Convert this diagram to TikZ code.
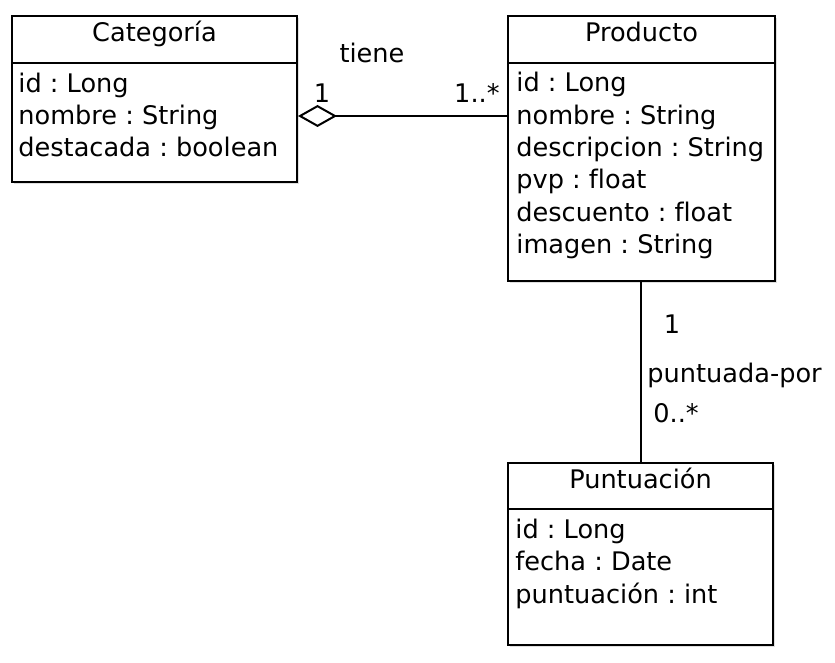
\documentclass[tikz,border=0pt]{standalone}
\usepackage{fontspec}
\setmainfont{DejaVu Sans}[Ligatures=NoCommon]
\usepackage{tikz}
\usetikzlibrary{arrows.meta,positioning,calc,shadows}
\frenchspacing
\tikzset{
  cls/.style={draw,line width=1pt,fill=white,anchor=north west,inner sep=0pt,
    drop shadow={shadow xshift=1pt,shadow yshift=-1pt,fill=black!25}},
  ttl/.style={anchor=base,inner sep=0pt,font=\fontsize{12.8}{15}\selectfont},
  attr/.style={anchor=base west,inner sep=0pt,font=\fontsize{12.8}{15}\selectfont},
  lbl/.style={anchor=base,inner sep=0pt,font=\fontsize{12.8}{15}\selectfont},
  agg/.style={{Diamond[open,length=19.5pt,width=11pt]}-,line width=1pt},
  assoc/.style={line width=1pt},
}
\begin{document}
\begin{tikzpicture}[x=0.5pt,y=-0.5pt]
\useasboundingbox (0,0) rectangle (835,663);
% classes
\node[cls,minimum width=142.5pt,minimum height=83pt] (cat) at (11,15) {};
\node[cls,minimum width=133.5pt,minimum height=132.5pt] (prod) at (507,15) {};
\node[cls,minimum width=132.5pt,minimum height=91pt] (punt) at (507,462) {};
\draw[line width=1pt] ($(cat.north west)+(0,48)$) -- ($(cat.north east)+(0,48)$);
\draw[line width=1pt] ($(prod.north west)+(0,48)$) -- ($(prod.north east)+(0,48)$);
\draw[line width=1pt] ($(punt.north west)+(0,47)$) -- ($(punt.north east)+(0,47)$);
\node[ttl] (cat-t) at ($(cat.north)+(0,27)$) {Categoría};
\node[ttl] (prod-t) at ($(prod.north)+(0,27)$) {Producto};
\node[ttl] (punt-t) at ($(punt.north)+(0,26)$) {Puntuación};
\foreach \t [count=\i] in {id : Long,nombre : String,destacada : boolean}
  \node[attr] (cat-\i) at ($(cat.north west)+(7,46+32*\i)$) {\t};
\foreach \t [count=\i] in {id : Long,nombre : String,descripcion : String,pvp : float,descuento : float,imagen : String}
  \node[attr] (prod-\i) at ($(prod.north west)+(9,44.7+32.3*\i)$) {\t};
\foreach \t [count=\i] in {id : Long,fecha : Date,puntuación : int}
  \node[attr] (punt-\i) at ($(punt.north west)+(8,43.5+32.5*\i)$) {\t};
% associations
\coordinate (aggL) at ($(cat.east)+(0,17)$);
\draw[agg] (aggL) -- (prod.west |- aggL);
\draw[assoc] (prod.south -| punt.north) -- (punt.north);
\node[lbl] (tiene) at (372,63) {tiene};
\node[lbl] (m1) at (322,103) {1};
\node[lbl,anchor=base east] (m2) at (500,103) {1..*};
\node[lbl] (m3) at (672,333) {1};
\node[lbl,anchor=base west] (pp) at (647,382) {puntuada-por};
\node[lbl,anchor=base west] (m4) at (653,422) {0..*};
\end{tikzpicture}
\end{document}
